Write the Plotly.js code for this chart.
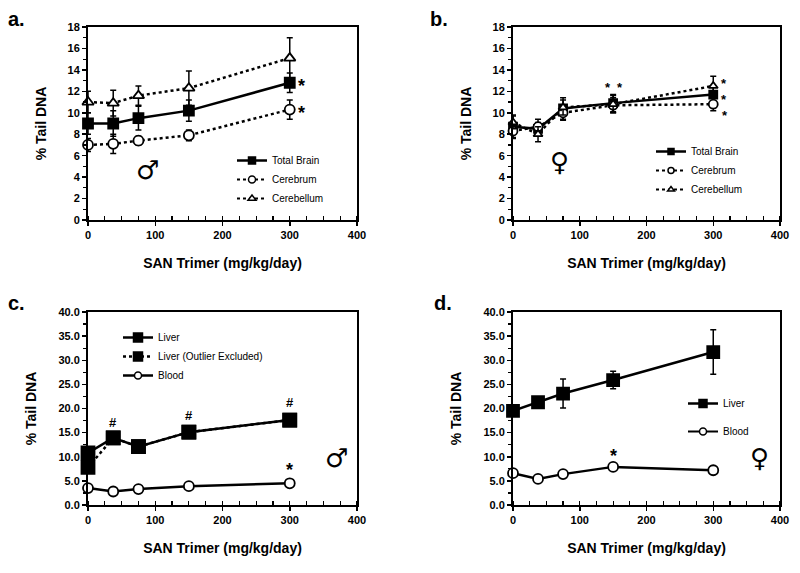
<!DOCTYPE html>
<html>
<head>
<meta charset="utf-8">
<script src="https://cdn.plot.ly/plotly-3.0.1.min.js"></script>
<style>
  html, body { margin: 0; padding: 0; background: #fff; }
  #chart { width: 800px; height: 573px; }
</style>
</head>
<body>
<div id="chart"></div>
<script>
// doses (mg/kg/day)
const doses = [0, 37.5, 75, 150, 300];

// a. male brain
const aTotal = [9.0, 9.0, 9.5, 10.2, 12.8];
const aTotalErr = [1.0, 1.2, 1.1, 1.0, 0.9];
const aCerebrum = [7.0, 7.1, 7.4, 7.9, 10.3];
const aCerebrumErr = [0.6, 0.9, 0.4, 0.5, 0.9];
const aCerebellum = [11.0, 10.9, 11.6, 12.3, 15.1];
const aCerebellumErr = [1.0, 1.2, 0.9, 1.6, 1.9];

// b. female brain
const bTotal = [8.7, 8.5, 10.4, 10.9, 11.7];
const bTotalErr = [1.1, 0.6, 1.0, 0.8, 0.7];
const bCerebrum = [8.3, 8.7, 10.0, 10.7, 10.8];
const bCerebrumErr = [0.6, 0.7, 0.7, 0.7, 0.6];
const bCerebellum = [9.1, 8.0, 10.5, 10.8, 12.5];
const bCerebellumErr = [0.6, 0.7, 0.7, 0.8, 0.9];

// c. male liver / blood
const cLiver = [10.8, 13.9, 12.1, 15.1, 17.6];
const cLiverErr = [0.8, 0.8, 1.0, 0.7, 1.1];
const cLiverExcl = [7.8, 13.9, 12.1, 15.1, 17.6];
const cLiverExclErr = [0.9, 0.8, 1.0, 0.7, 1.1];
const cBlood = [3.5, 2.8, 3.3, 3.9, 4.5];
const cBloodErr = [0.4, 0.3, 0.3, 0.4, 0.5];

// d. female liver / blood
const dLiver = [19.5, 21.3, 23.1, 25.9, 31.7];
const dLiverErr = [1.0, 0.6, 3.0, 1.8, 4.6];
const dBlood = [6.6, 5.4, 6.4, 7.9, 7.2];
const dBloodErr = [0.4, 0.3, 0.4, 0.4, 0.6];

// significance marks: [panel, x, y, text]
const sigMarks = [
  ['', 318, 12.8, '*'], ['', 318, 10.3, '*'],
  ['2', 143, 12.6, '*'], ['2', 160, 12.6, '*'],
  ['2', 316, 13.0, '*'], ['2', 316, 11.5, '*'], ['2', 318, 10.0, '*'],
  ['3', 37.5, 17.2, '#'], ['3', 150, 18.5, '#'], ['3', 300, 21.2, '#'],
  ['3', 300, 7.9, '*'],
  ['4', 150, 10.8, '*'],
];
// sex symbols: [panel, x, y, text]
const sexMarks = [
  ['', 88, 4.7, '\u2642'], ['2', 70, 5.4, '\u2640'],
  ['3', 369, 9.7, '\u2642'], ['4', 370, 9.7, '\u2640'],
];
const panelLabels = ['a.', 'b.', 'c.', 'd.'];

const FONT = 'Liberation Sans, Arial, sans-serif';

function series(ax, name, y, err, opts) {
  return {
    type: 'scatter', mode: 'lines+markers', name: name,
    x: doses, y: y,
    xaxis: 'x' + ax, yaxis: 'y' + ax, showlegend: false,
    error_y: { type: 'data', array: err, visible: true, color: '#000', thickness: 1.5, width: 3 },
    line: { color: '#000', width: opts.lw || 2.5, dash: opts.dash || 'solid' },
    marker: {
      symbol: opts.symbol, size: opts.size,
      color: opts.open ? '#fff' : '#000',
      line: { color: '#000', width: 1.8 },
    },
    cliponaxis: false,
  };
}

// legend-only entry (small marker, like the original figure's key)
function key(ax, leg, name, opts) {
  return {
    type: 'scatter', mode: 'lines+markers', name: name,
    x: [null], y: [null], xaxis: 'x' + ax, yaxis: 'y' + ax,
    legend: leg, legendgroup: opts.group, showlegend: true,
    line: { color: '#000', width: opts.lw || 2.5, dash: opts.dash || 'solid' },
    marker: {
      symbol: opts.symbol, size: opts.size || 7,
      color: opts.open ? '#fff' : '#000',
      line: { color: '#000', width: 1.5 },
    },
  };
}

const traces = [
  series('', 'Total Brain', aTotal, aTotalErr, { symbol: 'square', size: 10 }),
  series('', 'Cerebrum', aCerebrum, aCerebrumErr, { symbol: 'circle', size: 10, open: true, dash: 'dot' }),
  series('', 'Cerebellum', aCerebellum, aCerebellumErr, { symbol: 'triangle-up', size: 10, open: true, dash: 'dot' }),
  key('', 'legend', 'Total Brain', { symbol: 'square' }),
  key('', 'legend', 'Cerebrum', { symbol: 'circle', open: true, dash: 'dot', lw: 2 }),
  key('', 'legend', 'Cerebellum', { symbol: 'triangle-up', open: true, dash: 'dot', lw: 2 }),

  series('2', 'Total Brain', bTotal, bTotalErr, { symbol: 'square', size: 8 }),
  series('2', 'Cerebrum', bCerebrum, bCerebrumErr, { symbol: 'circle', size: 9, open: true, dash: 'dot' }),
  series('2', 'Cerebellum', bCerebellum, bCerebellumErr, { symbol: 'triangle-up', size: 8, open: true, dash: 'dot' }),
  key('2', 'legend2', 'Total Brain', { symbol: 'square', size: 6 }),
  key('2', 'legend2', 'Cerebrum', { symbol: 'circle', size: 6, open: true, dash: 'dot', lw: 2 }),
  key('2', 'legend2', 'Cerebellum', { symbol: 'triangle-up', size: 6, open: true, dash: 'dot', lw: 2 }),

  series('3', 'Liver', cLiver, cLiverErr, { symbol: 'square', size: 13 }),
  series('3', 'Liver (Outlier Excluded)', cLiverExcl, cLiverExclErr, { symbol: 'square', size: 13, dash: 'dot' }),
  series('3', 'Blood', cBlood, cBloodErr, { symbol: 'circle', size: 10, open: true }),
  key('3', 'legend3', 'Liver', { symbol: 'square', size: 9 }),
  key('3', 'legend3', 'Liver (Outlier Excluded)', { symbol: 'square', size: 9, dash: 'dot' }),
  key('3', 'legend3', 'Blood', { symbol: 'circle', size: 7, open: true }),

  series('4', 'Liver', dLiver, dLiverErr, { symbol: 'square', size: 12 }),
  series('4', 'Blood', dBlood, dBloodErr, { symbol: 'circle', size: 10, open: true }),
  key('4', 'legend4', 'Liver', { symbol: 'square', size: 8, group: 'l' }),
  key('4', 'legend4', 'Blood', { symbol: 'circle', size: 7, open: true, group: 'b', lw: 2 }),
];

const W = 800, H = 573;
const px = v => v / W;
const py = v => 1 - v / H;

function xAxis(dom, anchor) {
  return {
    domain: dom, anchor: anchor, range: [0, 400], dtick: 100,
    showgrid: false, zeroline: false,
    showline: true, linecolor: '#000', linewidth: 2, mirror: true,
    ticks: 'outside', ticklen: 4, tickwidth: 1.5, tickcolor: '#000',
    minor: { dtick: 25, ticks: 'inside', ticklen: 4, tickwidth: 1.2, tickcolor: '#000' },
    tickfont: { family: FONT, size: 11, color: '#000', weight: 'bold' },
    title: { text: 'SAN Trimer (mg/kg/day)', standoff: 18,
      font: { family: FONT, size: 14, color: '#000', weight: 'bold' } },
  };
}
function yAxis(dom, anchor, max, step, fmt) {
  return {
    domain: dom, anchor: anchor, range: [0, max], dtick: step, tickformat: fmt,
    showgrid: false, zeroline: false,
    showline: true, linecolor: '#000', linewidth: 2, mirror: true,
    ticks: 'outside', ticklen: 4, tickwidth: 1.5, tickcolor: '#000',
    minor: { dtick: step / 2, ticks: 'outside', ticklen: 3, tickwidth: 1.2, tickcolor: '#000' },
    tickfont: { family: FONT, size: 11, color: '#000', weight: 'bold' },
    title: { text: '% Tail DNA', standoff: 18,
      font: { family: FONT, size: 14, color: '#000', weight: 'bold' } },
  };
}

const leftX = [px(88), px(357)];
const rightX = [px(513), px(780)];
const topY = [py(220), py(27)];
const botY = [py(505), py(312)];

function legendAt(x, y, gap) {
  return {
    x: px(x), y: py(y), xanchor: 'left', yanchor: 'top',
    bgcolor: 'rgba(0,0,0,0)', borderwidth: 0,
    font: { family: FONT, size: 10, color: '#000' },
    tracegroupgap: gap || 0, itemwidth: 30,
  };
}

const annotations = [];
sigMarks.forEach(([ax, x, y, t]) => annotations.push({
  xref: 'x' + ax, yref: 'y' + ax, x: x, y: y, text: t, showarrow: false,
  font: { family: FONT, size: t === '*' ? (ax === '2' ? 13 : 18) : 13, color: '#000', weight: 'bold' },
  yshift: t === '*' ? -3 : 0,
}));
sexMarks.forEach(([ax, x, y, t]) => annotations.push({
  xref: 'x' + ax, yref: 'y' + ax, x: x, y: y, text: t, showarrow: false,
  font: { family: 'DejaVu Sans', size: 26, color: '#000' },
}));
const labelPos = [[6, 6], [428, 6], [6, 290], [432, 290]];
panelLabels.forEach((t, i) => annotations.push({
  xref: 'paper', yref: 'paper', x: px(labelPos[i][0]), y: py(labelPos[i][1]),
  xanchor: 'left', yanchor: 'top', text: t, showarrow: false,
  font: { family: FONT, size: 20, color: '#000', weight: 'bold' },
}));

const layout = {
  width: W, height: H,
  margin: { l: 0, r: 0, t: 0, b: 0 },
  paper_bgcolor: '#fff', plot_bgcolor: '#fff',
  font: { family: FONT, color: '#000' },
  showlegend: true,
  xaxis: xAxis(leftX, 'y'), yaxis: yAxis(topY, 'x', 18, 2, ''),
  xaxis2: xAxis(rightX, 'y2'), yaxis2: yAxis(topY, 'x2', 18, 2, ''),
  xaxis3: xAxis(leftX, 'y3'), yaxis3: yAxis(botY, 'x3', 40, 5, '.1f'),
  xaxis4: xAxis(rightX, 'y4'), yaxis4: yAxis(botY, 'x4', 40, 5, '.1f'),
  legend: legendAt(232, 146),
  legend2: legendAt(651, 137),
  legend3: legendAt(118, 323),
  legend4: legendAt(683, 389, 9),
  annotations: annotations,
};

Plotly.newPlot('chart', traces, layout, { staticPlot: true });
</script>
</body>
</html>
